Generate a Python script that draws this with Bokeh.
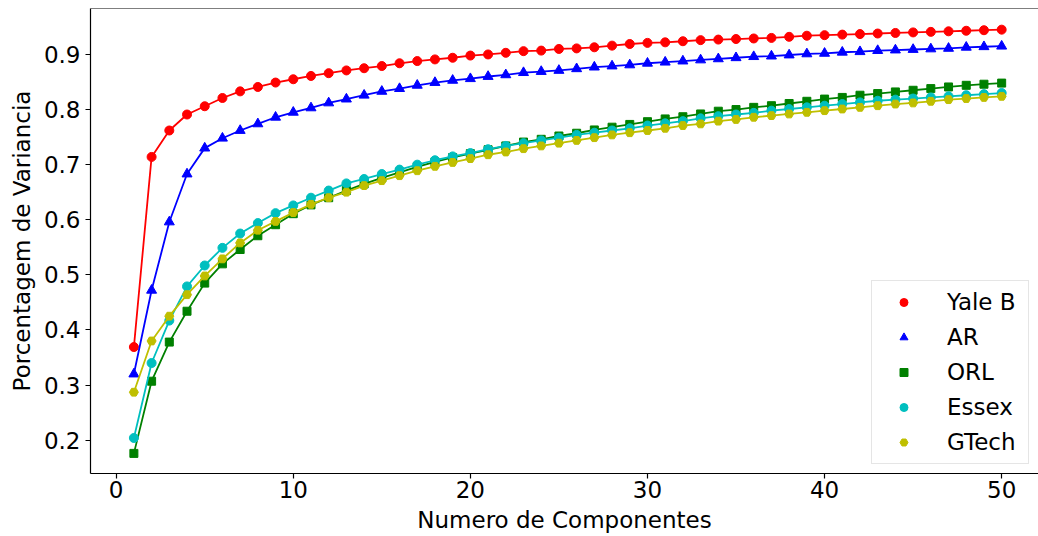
from bokeh.plotting import figure
from bokeh.models import Legend, LegendItem, Span, FixedTicker, Range1d
from bokeh.embed import file_html
from bokeh.resources import INLINE

components = list(range(1, 51))

yale_b = [0.369, 0.714, 0.762, 0.791, 0.806, 0.821, 0.833, 0.841, 0.849, 0.855,
          0.861, 0.866, 0.871, 0.875, 0.879, 0.884, 0.888, 0.891, 0.894, 0.898,
          0.900, 0.903, 0.906, 0.907, 0.910, 0.911, 0.913, 0.916, 0.919, 0.921,
          0.922, 0.924, 0.926, 0.927, 0.928, 0.929, 0.930, 0.932, 0.934, 0.935,
          0.936, 0.937, 0.938, 0.939, 0.940, 0.941, 0.942, 0.943, 0.944, 0.945]
ar = [0.320, 0.472, 0.596, 0.683, 0.730, 0.748, 0.762, 0.774, 0.786, 0.795,
      0.803, 0.812, 0.819, 0.826, 0.833, 0.838, 0.844, 0.849, 0.853, 0.856,
      0.860, 0.863, 0.867, 0.869, 0.871, 0.874, 0.877, 0.879, 0.881, 0.884,
      0.886, 0.888, 0.890, 0.892, 0.894, 0.896, 0.897, 0.899, 0.901, 0.902,
      0.904, 0.905, 0.907, 0.908, 0.909, 0.910, 0.911, 0.913, 0.914, 0.915]
orl = [0.176, 0.307, 0.378, 0.434, 0.485, 0.520, 0.546, 0.571, 0.591, 0.611,
       0.627, 0.640, 0.653, 0.665, 0.676, 0.686, 0.696, 0.705, 0.713, 0.720,
       0.727, 0.734, 0.741, 0.746, 0.752, 0.757, 0.763, 0.768, 0.773, 0.778,
       0.783, 0.787, 0.792, 0.797, 0.800, 0.804, 0.807, 0.811, 0.815, 0.819,
       0.822, 0.826, 0.829, 0.832, 0.835, 0.838, 0.841, 0.844, 0.846, 0.848]
essex = [0.204, 0.340, 0.417, 0.479, 0.517, 0.549, 0.575, 0.594, 0.612, 0.626,
         0.640, 0.653, 0.666, 0.674, 0.683, 0.691, 0.700, 0.708, 0.715, 0.721,
         0.728, 0.734, 0.739, 0.744, 0.749, 0.754, 0.758, 0.762, 0.766, 0.771,
         0.775, 0.779, 0.784, 0.788, 0.791, 0.794, 0.798, 0.801, 0.804, 0.807,
         0.810, 0.813, 0.816, 0.818, 0.820, 0.822, 0.824, 0.826, 0.828, 0.830]
gtech = [0.287, 0.380, 0.425, 0.464, 0.498, 0.529, 0.558, 0.581, 0.597, 0.613,
         0.628, 0.640, 0.650, 0.662, 0.671, 0.680, 0.689, 0.697, 0.704, 0.711,
         0.718, 0.723, 0.729, 0.734, 0.739, 0.744, 0.749, 0.754, 0.758, 0.762,
         0.766, 0.771, 0.774, 0.779, 0.782, 0.786, 0.789, 0.792, 0.795, 0.798,
         0.801, 0.804, 0.807, 0.810, 0.812, 0.815, 0.818, 0.820, 0.822, 0.824]

series_names = ["Yale B", "AR", "ORL", "Essex", "GTech"]
x_ticks = [0, 10, 20, 30, 40, 50]
y_ticks = [0.2, 0.3, 0.4, 0.5, 0.6, 0.7, 0.8, 0.9]

FONT = "DejaVu Sans"
Y_TOP = 0.9834

p = figure(width=1038, height=536, output_backend="svg", toolbar_location=None,
           x_range=Range1d(-1.45, 52.08), y_range=Range1d(0.1395, Y_TOP),
           min_border_left=90, min_border_right=0, min_border_top=8,
           min_border_bottom=63)
p.outline_line_color = None
p.xgrid.visible = False
p.ygrid.visible = False
p.background_fill_color = "white"
p.border_fill_color = "white"

for ax in (p.xaxis[0], p.yaxis[0]):
    ax.axis_line_color = "black"
    ax.axis_line_width = 1.2
    ax.major_tick_line_color = "black"
    ax.major_tick_line_width = 1.2
    ax.major_tick_out = 5
    ax.major_tick_in = 0
    ax.minor_tick_line_color = None
    ax.major_label_text_font = FONT
    ax.major_label_text_font_size = "23px"
    ax.major_label_text_color = "black"
    ax.axis_label_text_font = FONT
    ax.axis_label_text_font_size = "23px"
    ax.axis_label_text_font_style = "normal"
    ax.axis_label_text_color = "black"

p.xaxis.ticker = FixedTicker(ticks=x_ticks)
p.yaxis.ticker = FixedTicker(ticks=y_ticks)
p.xaxis.axis_label = "Numero de Componentes"
p.yaxis.axis_label = "Porcentagem de Variancia"
p.xaxis.major_label_standoff = 2
p.xaxis.axis_label_standoff = 6
p.yaxis.major_label_standoff = 5
p.yaxis.axis_label_standoff = 6

top_line = Span(location=Y_TOP, dimension="width", line_color="black", line_width=1.2)
p.add_layout(top_line)

styles = [
    ("#ff0000", "circle", 9),
    ("#0000ff", "triangle", 10),
    ("#008000", "square", 8),
    ("#00bfbf", "circle", 9),
    ("#bfbf00", "hex", 9),
]
data = [yale_b, ar, orl, essex, gtech]

items = []
for name, vals, (col, mk, sz) in zip(series_names, data, styles):
    p.line(components, vals, line_color=col, line_width=1.8)
    r = p.scatter(components, vals, marker=mk, size=sz, fill_color=col, line_color=col)
    items.append(LegendItem(label=name, renderers=[r]))

legend = Legend(items=items, location="bottom_right")
legend.label_text_font = FONT
legend.label_text_font_size = "23px"
legend.label_text_color = "black"
legend.glyph_width = 53
legend.glyph_height = 20
legend.label_height = 32
legend.label_width = 76
legend.label_standoff = 17
legend.spacing = 3
legend.padding = 5
legend.margin = 9
legend.border_line_color = "#cccccc"
legend.border_line_width = 1
legend.background_fill_color = "white"
legend.background_fill_alpha = 0.8
p.add_layout(legend)

open("out.html", "w").write(file_html(p, INLINE))
